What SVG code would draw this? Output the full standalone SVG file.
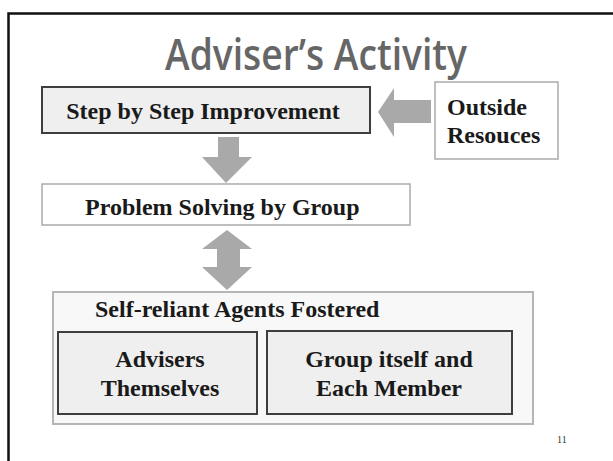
<svg xmlns="http://www.w3.org/2000/svg" width="613" height="461" viewBox="0 0 613 461">
  <style>
    .frame { fill: #ffffff; stroke: #111111; stroke-width: 2.5; }
    .title { font-family: "Open Sans", "DejaVu Sans", sans-serif; font-weight: 600; font-size: 43px; fill: #666666; }
    .box-dark { fill: #efefef; stroke: #3e3e3e; stroke-width: 2; }
    .box-light { fill: #ffffff; stroke: #aaaaaa; stroke-width: 1.5; }
    .box-outer { fill: #f8f8f8; stroke: #b5b5b5; stroke-width: 2; }
    .label { font-family: "Liberation Serif", "Times New Roman", serif; font-weight: bold; font-size: 24px; fill: #1a1a1a; }
    .arrow { fill: #a9a9a9; }
    .pageno { font-family: "Liberation Serif", serif; font-size: 10px; fill: #333333; }
  </style>

  <rect width="613" height="461" fill="#ffffff"/>
  <rect class="frame" x="8.5" y="13.5" width="640" height="470"/>

  <text class="title" x="316" y="70" text-anchor="middle" textLength="302" lengthAdjust="spacingAndGlyphs">Adviser’s Activity</text>

  <g id="connectors">
    <!-- block arrow from Outside Resouces into the improvement step -->
    <polygon class="arrow" points="378,112 394,88 394,100 431,100 431,123 394,123 394,137"/>
    <!-- block arrow down to group problem solving -->
    <polygon class="arrow" points="218,137 239,137 239,157 252,157 226,183 202,157 218,157"/>
    <!-- two-way block arrow -->
    <polygon class="arrow" points="227,230 252,249 240,249 240,267 252,267 227,290 202,267 217,267 217,249 202,249"/>
  </g>

  <g id="step-by-step">
    <rect class="box-dark" x="42" y="87" width="328" height="46"/>
    <text class="label" x="203" y="119" text-anchor="middle">Step by Step Improvement</text>
  </g>

  <g id="outside-resouces">
    <rect class="box-light" x="435" y="82" width="123" height="77"/>
    <text class="label" x="447" y="115">Outside</text>
    <text class="label" x="447" y="143">Resouces</text>
  </g>

  <g id="problem-solving">
    <rect class="box-light" x="42" y="184" width="368" height="41"/>
    <text class="label" x="85" y="215">Problem Solving by Group</text>
  </g>

  <g id="self-reliant">
    <rect class="box-outer" x="53" y="292" width="480" height="132"/>
    <text class="label" x="95" y="317">Self-reliant Agents Fostered</text>
  </g>

  <g id="advisers-themselves">
    <rect class="box-dark" x="58" y="332" width="199" height="82"/>
    <text class="label" x="160" y="367" text-anchor="middle">Advisers</text>
    <text class="label" x="160" y="396" text-anchor="middle">Themselves</text>
  </g>

  <g id="group-itself">
    <rect class="box-dark" x="267" y="331" width="245" height="83"/>
    <text class="label" x="389" y="367" text-anchor="middle">Group itself and</text>
    <text class="label" x="389" y="396" text-anchor="middle">Each Member</text>
  </g>

  <text class="pageno" x="557" y="443">11</text>
</svg>
